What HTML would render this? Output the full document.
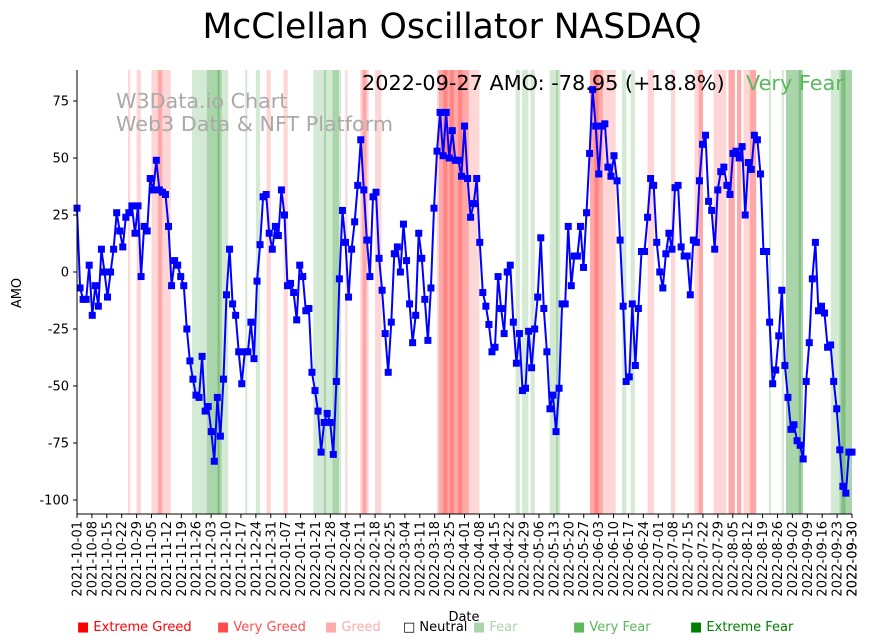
<!DOCTYPE html>
<html><head><meta charset="utf-8"><style>
body{margin:0;background:#fff;}
svg{display:block;font-family:"DejaVu Sans","Liberation Sans",sans-serif;}
</style></head><body>
<svg id="chart" width="872" height="642">
<text x="452" y="38" text-anchor="middle" font-size="34.6" fill="#000">McClellan Oscillator NASDAQ</text>
<g id="bands"></g>
<text x="116" y="108" font-size="20.7" fill="#aaa">W3Data.io Chart</text>
<text x="116" y="131" font-size="20.7" fill="#aaa">Web3 Data &amp; NFT Platform</text>
<g id="series"></g>
<text x="362" y="90" font-size="20.8" fill="#000">2022-09-27 AMO: -78.95 (+18.8%)</text>
<text x="746" y="90" font-size="20.8" fill="#5cb85c">Very Fear</text>
<g id="axes"></g>
<text transform="translate(21,293) rotate(-90)" text-anchor="middle" font-size="13">AMO</text>
<text x="464" y="621" text-anchor="middle" font-size="13">Date</text>
<g id="legend"></g>
</svg>
<script>
const startDate="2021-10-01", endDate="2022-09-30";
const values=[28,-7,-12,-12,3,-19,-6,-15,10,0,-11,0,10,26,18,11,24,26,29,17,29,-2,20,18,41,36,49,36,35,34,20,-6,5,3,-2,-6,-25,-39,-47,-54,-55,-37,-61,-59,-70,-83,-55,-72,-47,-10,10,-14,-19,-35,-49,-35,-35,-22,-38,-4,12,33,
34,17,10,20,16,36,25,-6,-5,-9,-21,3,-2,-17,-16,-44,-52,-61,-79,-66,-62,-66,-80,-48,-3,27,13,-11,10,22,38,58,36,14,-2,33,35,6,-8,-27,-44,-22,8,11,0,21,5,-14,-31,-19,17,6,-12,-30,-7,28,53,70,51,70,50,62,49,49,
42,64,41,24,30,41,13,-9,-15,-23,-35,-33,-2,-16,-27,0,3,-22,-40,-27,-52,-51,-26,-42,-25,-11,15,-16,-35,-60,-54,-70,-51,-14,-14,20,-6,7,7,20,2,26,52,80,64,43,64,65,46,42,51,40,14,-15,-48,-46,-14,-41,-16,9,9,24,41,
38,13,0,-7,8,17,10,37,38,11,7,7,-10,14,13,40,56,60,31,27,10,36,44,46,38,34,52,53,50,55,25,48,45,60,58,43,9,9,-22,-49,-43,-28,-8,-41,-55,-69,-67,-74,-76,-82,-48,-31,-3,13,-17,-15,-18,-33,-32,-48,-60,-78,-94,-97,-79,-79];
const yTicks=[75,50,25,0,-25,-50,-75,-100];
const bandStarts=["2021-10-25","2021-10-29","2021-11-05","2021-11-08","2021-11-24","2021-12-01","2021-12-06","2021-12-19","2021-12-24","2021-12-29","2022-01-06","2022-01-20","2022-01-25","2022-01-29","2022-02-04","2022-02-11","2022-02-12","2022-02-18","2022-03-19","2022-03-20","2022-03-22","2022-03-25","2022-03-29","2022-04-07","2022-04-25","2022-04-28","2022-05-02","2022-05-11","2022-05-14","2022-05-30","2022-05-30","2022-06-01","2022-06-14","2022-06-18","2022-06-26","2022-07-07","2022-07-18","2022-07-20","2022-07-27","2022-08-03","2022-08-07","2022-08-10","2022-08-13","2022-08-22","2022-08-28","2022-08-30","2022-09-05","2022-09-20","2022-09-24","2022-09-25"];
const bandEnds=["2021-10-26","2021-10-31","2021-11-14","2021-11-10","2021-12-11","2021-12-08","2021-12-07","2021-12-20","2021-12-26","2021-12-31","2022-01-08","2022-02-02","2022-01-26","2022-02-01","2022-02-05","2022-02-15","2022-02-14","2022-02-21","2022-04-07","2022-04-03","2022-03-24","2022-03-27","2022-03-31","2022-04-08","2022-04-27","2022-05-01","2022-05-04","2022-05-16","2022-05-15","2022-06-11","2022-06-05","2022-06-03","2022-06-16","2022-06-20","2022-06-29","2022-07-09","2022-07-22","2022-07-22","2022-08-02","2022-08-06","2022-08-09","2022-08-13","2022-08-16","2022-08-23","2022-08-29","2022-09-07","2022-09-06","2022-09-24","2022-09-30","2022-09-27"];
const bandLevels=[1,1,1,2,-1,-2,-3,-1,-1,1,1,-1,-2,-2,1,1,2,1,1,2,3,3,3,1,-1,-1,-1,-1,-2,1,2,3,-1,-1,1,1,1,2,1,2,2,1,2,-1,-1,-2,-3,-1,-2,-3];
const legendLabels=["Extreme Greed","Very Greed","Greed","Neutral","Fear","Very Fear","Extreme Fear"];

const NS="http://www.w3.org/2000/svg";
const X0=77,X1=852,YT=70,YB=514;
const t0=Date.parse(startDate),t1=Date.parse(endDate);
function xDate(s){return X0+(Date.parse(s)-t0)/(t1-t0)*(X1-X0);}
function xIdx(i){return X0+i/(values.length-1)*(X1-X0);}
function yVal(v){return 101+(75-v)*(500-101)/175;}
function mk(tag,attrs,parent){const e=document.createElementNS(NS,tag);for(const k in attrs)e.setAttribute(k,attrs[k]);parent.appendChild(e);return e;}
const bandColor={"1":"#ffd6d6","2":"#ffa8a8","3":"#ff8585","-1":"#d4ead4","-2":"#aad5aa","-3":"#80bf80"};
const bg=document.getElementById('bands');
for(let i=0;i<bandStarts.length;i++){
  const a=xDate(bandStarts[i]),b=xDate(bandEnds[i]);
  const r=mk('rect',{x:a,y:YT,width:Math.max(2,b-a),height:YB-YT,fill:bandColor[bandLevels[i]]},bg);
  
  
}
const sg=document.getElementById('series');
const pts=values.map((v,i)=>xIdx(i).toFixed(1)+","+yVal(v).toFixed(1)).join(" ");
const pl=mk('polyline',{points:pts,fill:"none",stroke:"#0000ff","stroke-width":2},sg);


values.forEach((v,i)=>{
  const m=mk('rect',{x:xIdx(i)-3.5,y:yVal(v)-3.5,width:7,height:7,fill:"#0000ff"},sg);
  
  
});
const ax=document.getElementById('axes');
mk('line',{x1:X0,y1:YT,x2:X0,y2:YB,stroke:"#000","stroke-width":1},ax);
mk('line',{x1:X0,y1:YB,x2:X1,y2:YB,stroke:"#000","stroke-width":1},ax);
yTicks.forEach(v=>{
  const y=yVal(v);
  mk('line',{x1:X0-4,y1:y,x2:X0,y2:y,stroke:"#000"},ax);
  const t=mk('text',{x:X0-8,y:y+4.5,"text-anchor":"end","font-size":13},ax);
  t.textContent=v;
  
  
});
const xTickDates=[];
for(let t=t0;t<=t1;t+=7*864e5)xTickDates.push(new Date(t).toISOString().slice(0,10));
xTickDates.push(endDate);
xTickDates.forEach(d=>{
  const x=xDate(d);
  mk('line',{x1:x,y1:YB,x2:x,y2:YB+4,stroke:"#000"},ax);
  const t=mk('text',{transform:`translate(${x+4.5},${YB+7}) rotate(-90)`,"text-anchor":"end","font-size":13},ax);
  t.textContent=d;
  
  
});
const lg=document.getElementById('legend');
const legX=[77,217,325,403,473,573,690];
const legC=["#ff0000","#ff4d4d","#ffaaaa","#000","#aad5aa","#5cb85c","#008000"];
legendLabels.forEach((l,i)=>{
  const t=mk('text',{x:legX[i],y:631,"font-size":13,fill:legC[i]},lg);
  t.textContent=(l==="Neutral"?"□ ":"■ ")+l;
  
  
});
</script>
</body></html>
